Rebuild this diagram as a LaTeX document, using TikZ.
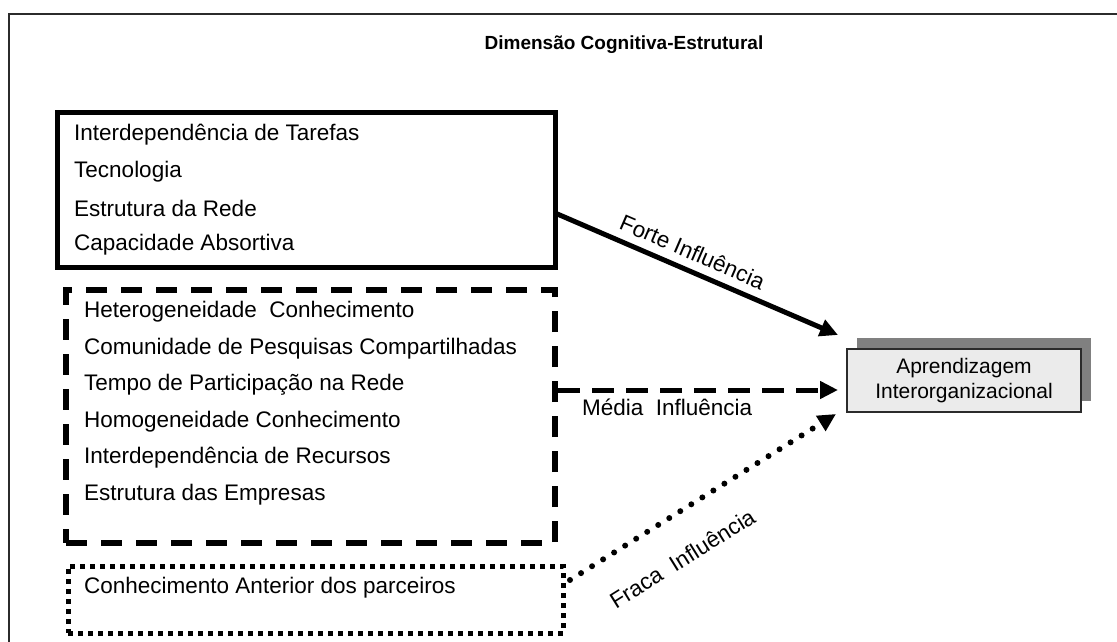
\documentclass[tikz,border=0pt]{standalone}
\usepackage{fontspec}
\setmainfont{Liberation Sans}
\usetikzlibrary{positioning,arrows.meta,calc}
\definecolor{dcline}{HTML}{2B2B2B}
\definecolor{dcfill}{HTML}{EBEBEB}
\definecolor{dcshade}{HTML}{808080}

\begin{document}
\begin{tikzpicture}[
  x=1pt, y=-1pt,
  font=\fontsize{22.5}{26}\selectfont,
  frame/.style={draw=dcline, line width=2.5pt},
  solidbox/.style={draw=black, line width=5pt, minimum width=#1},
  dashbox/.style={draw=black, line width=6pt, dash pattern=on 21pt off 14pt, minimum width=#1},
  dotbox/.style={draw=black, line width=5pt, dash pattern=on 5pt off 5pt, minimum width=#1},
  item/.style={anchor=west, inner sep=0pt},
  target/.style={draw=dcline, line width=1.5pt, fill=dcfill, align=center,
                 font=\fontsize{21}{25}\selectfont,
                 minimum width=234pt, minimum height=63pt, inner sep=2pt},
  arr/.style={-{Triangle[length=18pt, width=17pt]}, line width=5pt, draw=black},
  lbl/.style={inner sep=0pt, sloped},
]
  \useasboundingbox (0,0) rectangle (1117,642);
  \draw[frame] (9,14) rectangle (1140,670);
  \node[font=\bfseries\fontsize{19}{23}\selectfont] (title) at (624,45)
    {Dimensão Cognitiva-Estrutural};

  % factor groups
  \node[solidbox=498pt, minimum height=155pt] (strong) at (306,189.5) {};
  \node[dashbox=489pt, minimum height=253pt] (medium) at (310.5,416.5) {};
  \node[dotbox=495pt, minimum height=67pt] (weak) at (315.5,599.5) {};

  \foreach \txt [count=\i from 0] in {Interdependência de Tarefas, Tecnologia,
      Estrutura da Rede, Capacidade Absortiva}
    \node[item] (s\i) at (74,135+36.5*\i) {\txt};
  \foreach \txt [count=\i from 0] in {Heterogeneidade\ \ Conhecimento,
      Comunidade de Pesquisas Compartilhadas, Tempo de Participação na Rede,
      Homogeneidade Conhecimento, Interdependência de Recursos,
      Estrutura das Empresas}
    \node[item] (m\i) at (84,312+36.5*\i) {\txt};
  \node[item] (w0) at (84,588) {Conhecimento Anterior dos parceiros};

  % outcome
  \node[fill=dcshade, minimum width=234pt, minimum height=63pt] (shade) at (974,369.5) {};
  \node[target] (learn) at (964,380.5) {Aprendizagem\\Interorganizacional};

  \coordinate (fs) at (555,213);
  \coordinate (fe) at (838,335);
  \coordinate (ms) at (558,390);
  \coordinate (me) at (838,390);
  \coordinate (ws) at (570,580);
  \coordinate (we) at (836,414);

  \draw[arr] (fs) -- node[lbl, above=8pt, pos=0.46] {Forte Influência} (fe);
  \draw[arr, dash pattern=on 22pt off 12pt] (ms) --
    node[lbl, below=6pt, pos=0.39] {Média\ \ Influência} (me);
  \draw[arr, line width=6pt, line cap=round, dash pattern=on 0pt off 13pt] (ws) --
    node[lbl, below=30pt, pos=0.34] {Fraca\ \ Influência} (we);
\end{tikzpicture}
\end{document}
